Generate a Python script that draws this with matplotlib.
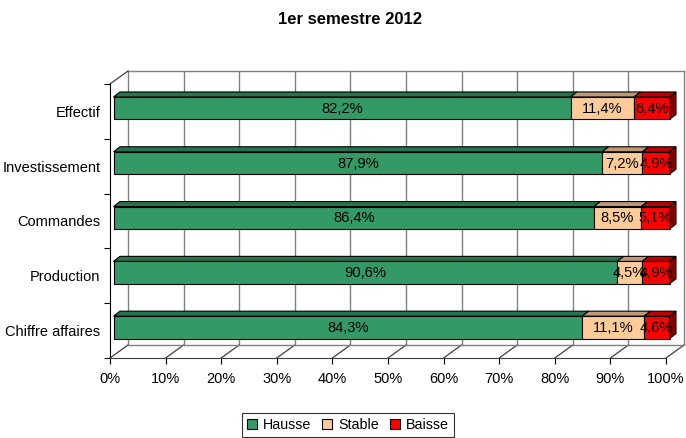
import matplotlib
matplotlib.use("Agg")
import matplotlib.pyplot as plt
from matplotlib.patches import Polygon, Patch
import numpy as np

plt.rcParams['font.family'] = ['Liberation Sans', 'DejaVu Sans']

categories = ["Effectif", "Investissement", "Commandes", "Production", "Chiffre affaires"]
hausse = [82.2, 87.9, 86.4, 90.6, 84.3]
stable = [11.4, 7.2, 8.5, 4.5, 11.1]
baisse = [6.4, 4.9, 5.1, 4.9, 4.6]
series_names = ["Hausse", "Stable", "Baisse"]
xtick_vals = list(range(0, 101, 10))

# colours: front, top, side
face_cols = ["#339966", "#FFCC99", "#FF0000"]
top_cols = ["#26734D", "#BF9973", "#BF0000"]
side_cols = ["#1A4D33", "#806650", "#800000"]

W, H = 686, 438
fig = plt.figure(figsize=(W / 100, H / 100), dpi=100)
# front plane of the 3d box in pixels
x0, x1, ytop, ybot = 110, 666, 84, 358
ax = fig.add_axes([x0 / W, 1 - ybot / H, (x1 - x0) / W, (ybot - ytop) / H])
ax.set_xlim(0, 100)
ax.set_ylim(len(categories), 0)

pxx = 100 / (x1 - x0)          # data units per pixel in x
pxy = len(categories) / (ybot - ytop)
Dx, Dy = 18 * pxx, -13 * pxy   # depth of the box
ox, oy = 3.5 * pxx, -3.2 * pxy  # bar front offset
bdx, bdy = 6.5 * pxx, -5 * pxy  # bar depth
bh = 0.41

grid_c = "#808080"
n = len(categories)
# back wall + floor
for v in xtick_vals:
    ax.plot([v + Dx, v + Dx], [n + Dy, Dy], color=grid_c, lw=1, clip_on=False, zorder=1)
    ax.plot([v, v + Dx], [n, n + Dy], color="#404040", lw=0.9, clip_on=False, zorder=1)
ax.plot([Dx, 100 + Dx], [Dy, Dy], color=grid_c, lw=1, clip_on=False, zorder=1)
ax.plot([Dx, 100 + Dx], [n + Dy, n + Dy], color=grid_c, lw=1, clip_on=False, zorder=1)
ax.plot([0, Dx], [0, Dy], color="#404040", lw=0.9, clip_on=False, zorder=1)

data = np.array([hausse, stable, baisse])
ypos = np.arange(n) + 0.5 + oy
for i, cat in enumerate(categories):
    left = 0.0
    for s in range(3):
        val = data[s, i]
        l = left + ox
        r = left + val + ox
        t = ypos[i] - bh / 2
        b = ypos[i] + bh / 2
        ax.barh(ypos[i], val, left=l, height=bh, color=face_cols[s],
                edgecolor="black", lw=0.8, zorder=3, clip_on=False)
        ax.add_patch(Polygon([(l, t), (r, t), (r + bdx, t + bdy), (l + bdx, t + bdy)],
                             closed=True, facecolor=top_cols[s], edgecolor="black",
                             lw=0.8, zorder=3, clip_on=False))
        if s == 2:
            ax.add_patch(Polygon([(r, t), (r + bdx, t + bdy), (r + bdx, b + bdy), (r, b)],
                                 closed=True, facecolor=side_cols[s], edgecolor="black",
                                 lw=0.8, zorder=3, clip_on=False))
        lab = ("%.1f%%" % val).replace(".", ",")
        ax.text((l + r) / 2, ypos[i] + 0.01, lab, ha="center", va="center",
                fontsize=10.6, zorder=5)
        left += val

for sp in ["top", "right"]:
    ax.spines[sp].set_visible(False)
ax.spines["left"].set_color("black")
ax.spines["bottom"].set_color("#404040")
ax.patch.set_visible(False)

ax.set_xticks(xtick_vals)
ax.set_xticklabels(["%d%%" % v for v in xtick_vals], fontsize=10.5)
ax.set_yticks(np.arange(n + 1))
ax.set_yticklabels([])
ax.set_yticks(np.arange(n) + 0.5, minor=True)
ax.set_yticklabels(categories, minor=True, fontsize=10.5)
ax.tick_params(axis="y", which="minor", length=0, pad=7)
ax.tick_params(axis="y", which="major", length=4)
ax.tick_params(axis="x", length=4, pad=6)

fig.text(350 / W, 1 - 20 / H, "1er semestre 2012", ha="center", va="center",
         fontsize=12, fontweight="bold")

handles = [Patch(facecolor=c, edgecolor="black", lw=0.8) for c in face_cols]
leg = fig.legend(handles, series_names, loc="center", bbox_to_anchor=(348 / W, 1 - 425 / H),
                 ncol=3, fontsize=10.3, frameon=True, fancybox=False, handlelength=0.7,
                 handleheight=0.7, handletextpad=0.4, columnspacing=0.8, borderpad=0.35)
leg.get_frame().set_edgecolor("black")
leg.get_frame().set_linewidth(0.8)

fig.savefig("out.png", dpi=100)
